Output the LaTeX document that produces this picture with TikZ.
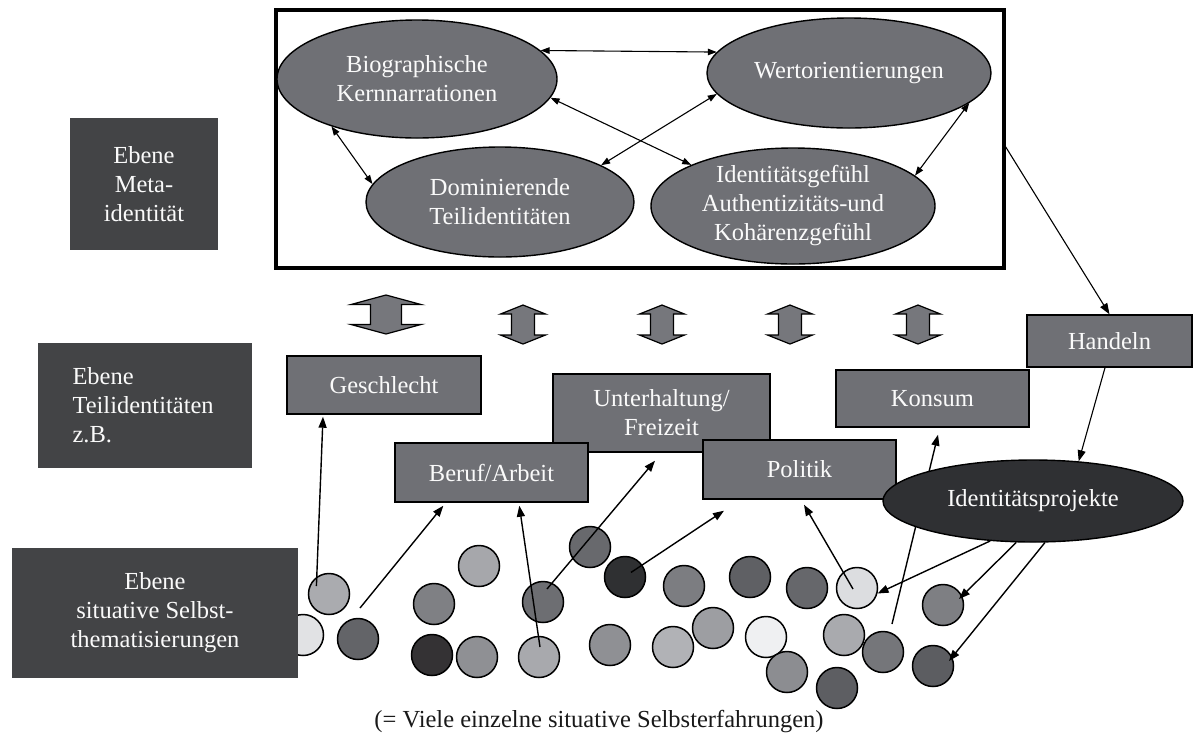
\documentclass[tikz,border=0pt]{standalone}
\usepackage{fontspec}
\setmainfont{Liberation Serif}
\usetikzlibrary{arrows.meta,shapes.geometric}

\definecolor{midgray}{RGB}{111,112,117}
\definecolor{darklabel}{RGB}{67,68,70}
\definecolor{projdark}{RGB}{47,48,51}
\definecolor{arrowgray}{RGB}{118,119,124}
\definecolor{txtwhite}{RGB}{250,250,250}

\tikzset{
  % vertical two-headed block arrows between the levels
  updownbig/.pic={
    \path[fill=arrowgray, draw=black, line width=1.2pt, line join=miter]
      (0,-19.5) -- (35,-10) -- (15.5,-10) -- (15.5,10) -- (35,10) -- (0,19.5)
      -- (-35,10) -- (-15.5,10) -- (-15.5,-10) -- (-35,-10) -- cycle;},
  updownsmall/.pic={
    \path[fill=arrowgray, draw=black, line width=1.2pt, line join=miter]
      (0,-19.5) -- (22.5,-10.5) -- (11.5,-10.5) -- (11.5,10.5) -- (22.5,10.5) -- (0,19.5)
      -- (-22.5,10.5) -- (-11.5,10.5) -- (-11.5,-10.5) -- (-22.5,-10.5) -- cycle;},
}

\begin{document}
\begin{tikzpicture}[x=1pt,y=-1pt,
  every node/.style={font=\fontsize{24.5}{29}\selectfont},
  level/.style={rectangle, fill=darklabel, text=txtwhite, inner sep=0pt, align=center},
  oval/.style={ellipse, draw=black, line width=1.4pt, fill=midgray, text=txtwhite, inner sep=0pt, align=center},
  facet/.style={rectangle, draw=black, line width=1.4pt, fill=midgray, text=txtwhite, inner sep=0pt, align=center},
  bubble/.style={circle, draw=black, line width=1.5pt, minimum size=41pt, inner sep=0pt},
  link/.style={line width=1.4pt, -{Triangle[length=11pt,width=8pt]}},
  twoway/.style={line width=1.1pt, {Triangle[length=9pt,width=6.5pt]}-{Triangle[length=9pt,width=6.5pt]}},
]
\useasboundingbox (0,0) rectangle (1194,740);

% single self-thematisations
\node[bubble, fill={rgb,255:red,225;green,226;blue,228}] (c1)  at (303,635) {};
\node[bubble, fill={rgb,255:red,170;green,171;blue,175}] (c2)  at (329,594) {};
\node[bubble, fill={rgb,255:red,99;green,100;blue,104}]  (c3)  at (358,639) {};
\node[bubble, fill={rgb,255:red,127;green,128;blue,132}] (c4)  at (434,604) {};
\node[bubble, fill={rgb,255:red,52;green,50;blue,52}]    (c5)  at (432,655) {};
\node[bubble, fill={rgb,255:red,143;green,144;blue,148}] (c6)  at (477,657) {};
\node[bubble, fill={rgb,255:red,166;green,167;blue,171}] (c7)  at (479,566) {};
\node[bubble, fill={rgb,255:red,109;green,110;blue,114}] (c8)  at (543,602) {};
\node[bubble, fill={rgb,255:red,168;green,169;blue,173}] (c9)  at (539,657) {};
\node[bubble, fill={rgb,255:red,104;green,105;blue,109}] (c10) at (590,547) {};
\node[bubble, fill={rgb,255:red,47;green,48;blue,50}]    (c11) at (625,577) {};
\node[bubble, fill={rgb,255:red,124;green,125;blue,129}] (c12) at (684,586) {};
\node[bubble, fill={rgb,255:red,143;green,144;blue,148}] (c13) at (610,645) {};
\node[bubble, fill={rgb,255:red,177;green,178;blue,182}] (c14) at (673,647) {};
\node[bubble, fill={rgb,255:red,157;green,158;blue,162}] (c15) at (713,628) {};
\node[bubble, fill={rgb,255:red,95;green,96;blue,100}]   (c16) at (750,577) {};
\node[bubble, fill={rgb,255:red,239;green,240;blue,242}] (c17) at (766,637) {};
\node[bubble, fill={rgb,255:red,140;green,141;blue,145}] (c18) at (787,672) {};
\node[bubble, fill={rgb,255:red,102;green,103;blue,107}] (c19) at (807,588) {};
\node[bubble, fill={rgb,255:red,220;green,221;blue,224}] (c20) at (857,588) {};
\node[bubble, fill={rgb,255:red,169;green,170;blue,174}] (c21) at (844,635) {};
\node[bubble, fill={rgb,255:red,93;green,94;blue,98}]    (c22) at (837,688) {};
\node[bubble, fill={rgb,255:red,117;green,118;blue,122}] (c23) at (883,652) {};
\node[bubble, fill={rgb,255:red,126;green,127;blue,131}] (c24) at (943,605) {};
\node[bubble, fill={rgb,255:red,92;green,93;blue,97}]    (c25) at (933,666) {};

% level labels
\node[level, minimum width=148pt, minimum height=132pt] (meta) at (144,184) {Ebene\\Meta-\\identität};
\node[level, minimum width=214pt, minimum height=125pt, text width=145pt, align=left] (teil) at (145,405.5) {Ebene\\Teilidentitäten\\z.B.};
\node[level, minimum width=286pt, minimum height=130pt] (situ) at (155,613) {Ebene\\situative Selbst-\\thematisierungen};

% meta identity frame
\node[rectangle, draw=black, line width=3.5pt, minimum width=728pt, minimum height=258pt, inner sep=0pt] (frame) at (640,139) {};
\node[oval, minimum width=280pt, minimum height=118pt] (bio)  at (417,79)  {Biographische\\Kernnarrationen};
\node[oval, minimum width=284pt, minimum height=110pt] (wert) at (849,73)  {Wertorientierungen};
\node[oval, minimum width=268pt, minimum height=110pt] (dom)  at (500,202) {Dominierende\\Teilidentitäten};
\node[oval, minimum width=284pt, minimum height=116pt] (ident) at (793,206) {Identitätsgefühl\\Authentizitäts-und\\Kohärenzgefühl};

\draw[twoway] (bio.13)  -- (wert.171);
\draw[twoway] (bio.209) -- (dom.172);
\draw[twoway] (bio.-8.5) -- (ident.158);
\draw[twoway] (dom.20)  -- (wert.189);
\draw[twoway] (wert.-14.5) -- (ident.14.5);

% exchange between the levels
\pic at (386,314.5) {updownbig};
\pic at (523,324.5) {updownsmall};
\pic at (662,324.5) {updownsmall};
\pic at (790,324.5) {updownsmall};
\pic at (918,324.5) {updownsmall};

% partial identities
\node[facet, minimum width=217pt, minimum height=78pt] (unterh)  at (661.5,413)   {Unterhaltung/\\Freizeit};
\node[facet, minimum width=193pt, minimum height=59pt] (beruf)   at (491.5,472.5) {Beruf/Arbeit};
\node[facet, minimum width=193pt, minimum height=59pt] (politik) at (799.5,469.5) {Politik};
\node[facet, minimum width=193pt, minimum height=57pt] (konsum)  at (932.5,398.5) {Konsum};
\node[facet, minimum width=194pt, minimum height=58pt] (gesch)   at (384,385)     {Geschlecht};
\node[facet, minimum width=165pt, minimum height=52pt] (handeln) at (1109.5,341)  {Handeln};

% free line starts between the circles
\coordinate (b0) at (360,608);
\coordinate (g0) at (892,624);

\draw[link] ([shift={(-12.6pt,8pt)}]c2.center) -- ([shift={(-61pt,-2pt)}]gesch.south);
\draw[link] (b0) -- ([shift={(-48.2pt,-3pt)}]beruf.south);
\draw[link] ([shift={(1pt,10pt)}]c9.center) -- ([shift={(27.8pt,-3pt)}]beruf.south);
\draw[link] ([shift={(4pt,13pt)}]c8.center) -- ([shift={(-6.5pt,-8pt)}]unterh.south);
\draw[link] ([shift={(6pt,4.6pt)}]c11.center) -- ([shift={(-75.5pt,-11pt)}]politik.south);
\draw[link] ([shift={(-4pt,-1pt)}]c20.center) -- ([shift={(4.5pt,-5pt)}]politik.south);
\draw[link] (g0) -- ([shift={(5.5pt,-7pt)}]konsum.south);

\draw[link, line width=1.1pt] ([yshift=-8pt]frame.east) -- (handeln.north);

% identity projects
\node[oval, fill=projdark, minimum width=300pt, minimum height=82pt] (ip) at (1033,501) {Identitätsprojekte};

\draw[link, line width=1.1pt] ([xshift=-4.5pt]handeln.south) -- (ip.41);
\draw[link] (ip.223) -- (c20.-15);
\draw[link] (ip.248) -- ([shift={(16pt,6pt)}]c24.center);
\draw[link] (ip.286) -- ([shift={(16pt,5pt)}]c25.center);

% caption of the lowest level
\node[anchor=base, text={rgb,255:red,25;green,25;blue,25}] (note) at (599,727) {(= Viele einzelne situative Selbsterfahrungen)};
\end{tikzpicture}
\end{document}
